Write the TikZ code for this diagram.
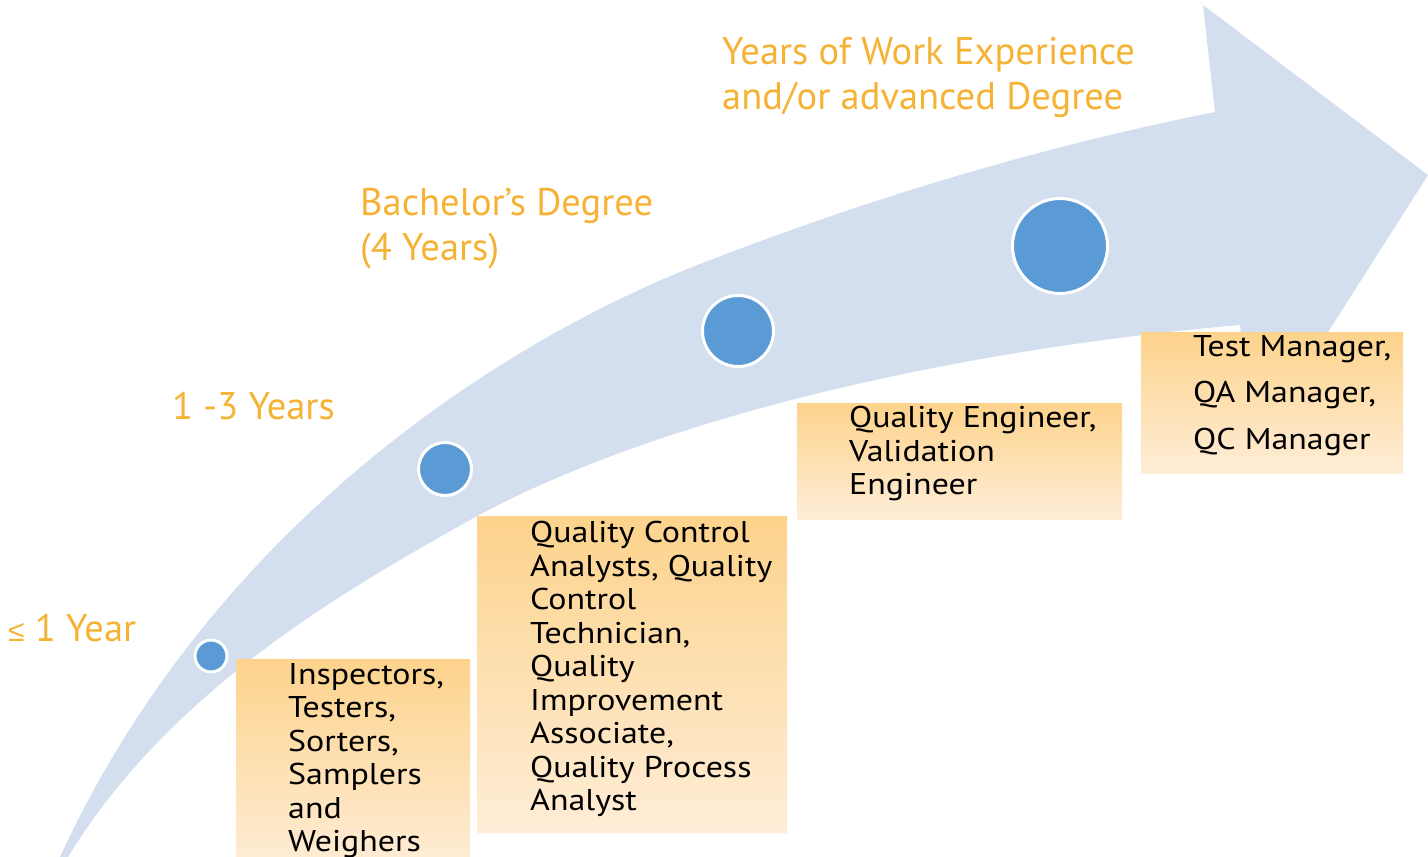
\documentclass[tikz,border=0pt]{standalone}
\usepackage{fontspec}
\setmainfont{PT Sans}
\newfontfamily\jobfont{PT Sans}[FakeStretch=1.13]
\newfontfamily\symfont{Liberation Sans}
\definecolor{arrowblue}{RGB}{211,222,239}
\definecolor{dotblue}{RGB}{91,155,213}
\definecolor{stageorange}{RGB}{245,178,52}
\definecolor{boxtop}{RGB}{253,211,140}
\definecolor{boxbottom}{RGB}{254,237,215}

\begin{document}
\begin{tikzpicture}[x=1pt, y=-1pt,
        dot/.style = {circle, fill=dotblue, draw=white, line width=3pt, inner sep=0pt},
        stage/.style = {text=stageorange, font=\fontsize{38.5}{45}\selectfont, align=left, inner sep=0pt},
        jobbox/.style = {rectangle, top color=boxtop, bottom color=boxbottom, inner sep=0pt, anchor=north west},
        jobtext/.style = {font=\jobfont\fontsize{30}{33.5}\selectfont, align=left, inner sep=0pt, anchor=north west}]
        \useasboundingbox (0,0) rectangle (1428,857);
        % curved arrow
        \fill[arrowblue] (60,857) .. controls (212,527) and (500,342) .. (700,264)
            .. controls (880,194) and (1050,145) .. (1215,112)
            -- (1203,5) -- (1428,175) -- (1253,450) -- (1240,325)
            .. controls (950,350) and (650,420) .. (470,520)
            .. controls (345,590) and (170,690) .. (68,857) -- cycle;
        % milestones
        \node[dot, minimum size=32] (c1) at (211,656) {};
        \node[dot, minimum size=53] (c2) at (445,469) {};
        \node[dot, minimum size=71] (c3) at (738,331) {};
        \node[dot, minimum size=95] (c4) at (1060,246) {};
        % stages
        \node[stage, anchor=base west] (s1) at (8,641) {{\symfont\fontsize{30}{30}\selectfont ≤} 1 Year};
        \node[stage, anchor=base west] (s2) at (172,419) {1 -3 Years};
        \node[stage, anchor=north west] (s3) at (360,188) {Bachelor’s Degree\\(4 Years)};
        \node[stage, anchor=north west] (s4) at (722,37) {Years of Work Experience\\and/or advanced Degree};
        % job boxes
        \node[jobbox, minimum width=234, minimum height=211] (b1) at (236,659) {};
        \node[jobbox, minimum width=310, minimum height=316] (b2) at (477,516) {};
        \node[jobbox, minimum width=325, minimum height=116] (b3) at (797,403) {};
        \node[jobbox, minimum width=262, minimum height=141] (b4) at (1141,332) {};
        \node[jobtext] (t1) at ([xshift=52, yshift=-4]b1.north west) {Inspectors,\\Testers,\\Sorters,\\Samplers\\and\\Weighers};
        \node[jobtext] (t2) at ([xshift=53, yshift=-5]b2.north west) {Quality Control\\Analysts, Quality\\Control\\Technician,\\Quality\\Improvement\\Associate,\\Quality Process\\Analyst};
        \node[jobtext] (t3) at ([xshift=52, yshift=-3]b3.north west) {Quality Engineer,\\Validation\\Engineer};
        \node[jobtext, font=\jobfont\fontsize{30}{46.5}\selectfont] (t4) at ([xshift=52, yshift=-3]b4.north west) {Test Manager,\\QA Manager,\\QC Manager};
    \end{tikzpicture}
\end{document}
